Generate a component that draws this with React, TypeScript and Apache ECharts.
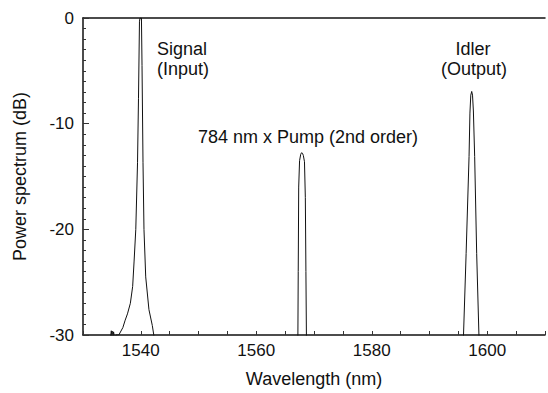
import React, { useEffect, useRef } from "react";
import * as echarts from "echarts";

// Wavelength range and ticks
const xMin = 1530;
const xMax = 1610;
const xLabelValues = [1540, 1560, 1580, 1600];
const yMin = -30;
const yMax = 0;

// Signal (input) peak
const signalWavelength = [1534.7, 1534.9, 1535.1, 1535.3, 1535.5, 1535.7, 1536.2, 1536.9, 1537.3, 1537.7, 1538.2, 1538.6, 1538.85, 1539.14, 1539.44, 1539.61, 1539.78, 1539.88, 1540.12, 1540.22, 1540.39, 1540.56, 1540.86, 1541.42, 1542.0, 1542.4];
const signalPower = [-30.5, -29.6, -30.5, -29.7, -30.5, -30, -30, -29.3, -28.6, -28, -27, -25.4, -23, -20, -13.7, -7.6, -0.3, 0, 0, -4.5, -13.7, -20, -24.5, -27.6, -29.1, -30.5];

// 784 nm x Pump (2nd order) peak
const pumpWavelength = [1567.2, 1567.27, 1567.35, 1567.5, 1567.7, 1567.85, 1568.0, 1568.15, 1568.35, 1568.5, 1568.6, 1568.7];
const pumpPower = [-31, -24, -16, -13.5, -12.9, -12.75, -12.8, -13, -13.6, -17, -24, -31];

// Idler (output) peak
const idlerWavelength = [1595.8, 1595.89, 1596.34, 1596.85, 1597.0, 1597.15, 1597.31, 1597.45, 1597.6, 1597.82, 1598.17, 1598.56, 1598.65];
const idlerPower = [-31, -30, -22.3, -13.1, -9, -7.3, -6.95, -7.3, -8.8, -13.1, -22.3, -30, -31];

const FONT = "'Liberation Sans', Arial, Helvetica, sans-serif";

function zip(xs: number[], ys: number[]) {
  return xs.map((x, i) => [x, ys[i]]);
}

export default function App() {
  const ref = useRef<HTMLDivElement>(null);
  useEffect(() => {
    const chart = echarts.init(ref.current!, null, { renderer: "svg" });
    const lineStyle = { color: "#111", width: 1 };
    const seriesBase = {
      type: "line",
      showSymbol: false,
      symbol: "none",
      lineStyle,
      clip: true,
      xAxisIndex: 0,
      yAxisIndex: 0,
    };
    chart.setOption({
      animation: false,
      backgroundColor: "#fff",
      grid: { left: 83, top: 18, right: 0, bottom: 50, containLabel: false },
      xAxis: [
        {
          type: "value",
          min: xMin,
          max: xMax,
          interval: 5,
          position: "bottom",
          name: "Wavelength (nm)",
          nameLocation: "middle",
          nameGap: 35,
          nameTextStyle: { fontFamily: FONT, fontSize: 18, color: "#111" },
          axisLine: { show: true, onZero: false, lineStyle: { color: "#111", width: 1.5 } },
          axisTick: { show: true, inside: true, length: 4, lineStyle: { color: "#333", width: 1 } },
          axisLabel: {
            show: true,
            margin: 7,
            fontFamily: FONT,
            fontSize: 17,
            color: "#111",
            formatter: (v: number) => (xLabelValues.includes(v) ? String(v) : ""),
          },
          splitLine: { show: false },
        },
        {
          type: "value",
          min: xMin,
          max: xMax,
          position: "top",
          axisLine: { show: true, onZero: false, lineStyle: { color: "#111", width: 1.5 } },
          axisTick: { show: false },
          axisLabel: { show: false },
          splitLine: { show: false },
        },
      ],
      yAxis: [
        {
          type: "value",
          min: yMin,
          max: yMax,
          interval: 10,
          name: "Power spectrum (dB)",
          nameLocation: "middle",
          nameGap: 54,
          nameRotate: 90,
          nameTextStyle: { fontFamily: FONT, fontSize: 18, color: "#111" },
          axisLine: { show: true, onZero: false, lineStyle: { color: "#111", width: 1.5 } },
          axisTick: { show: true, inside: true, length: 6, lineStyle: { color: "#333", width: 1 } },
          minorTick: { show: true, splitNumber: 10, length: 3, lineStyle: { color: "#333", width: 1 } },
          axisLabel: { margin: 9, fontFamily: FONT, fontSize: 17, color: "#111" },
          splitLine: { show: false },
          minorSplitLine: { show: false },
        },
      ],
      series: [
        { ...seriesBase, name: "Signal", data: zip(signalWavelength, signalPower) },
        { ...seriesBase, name: "Pump", data: zip(pumpWavelength, pumpPower) },
        { ...seriesBase, name: "Idler", data: zip(idlerWavelength, idlerPower) },
      ],
      graphic: [
        { type: "text", x: 182, y: 40, style: { text: "Signal", font: `18px ${FONT}`, fill: "#111", textAlign: "center" } },
        { type: "text", x: 183, y: 60, style: { text: "(Input)", font: `18px ${FONT}`, fill: "#111", textAlign: "center" } },
        { type: "text", x: 308, y: 128, style: { text: "784 nm x Pump (2nd order)", font: `18px ${FONT}`, fill: "#111", textAlign: "center" } },
        { type: "text", x: 473, y: 40, style: { text: "Idler", font: `18px ${FONT}`, fill: "#111", textAlign: "center" } },
        { type: "text", x: 474, y: 60, style: { text: "(Output)", font: `18px ${FONT}`, fill: "#111", textAlign: "center" } },
      ],
    });
    return () => chart.dispose();
  }, []);
  return (
    <div
      ref={ref}
      style={{ position: "fixed", left: 0, top: 0, width: 548, height: 393, background: "#fff" }}
    />
  );
}
